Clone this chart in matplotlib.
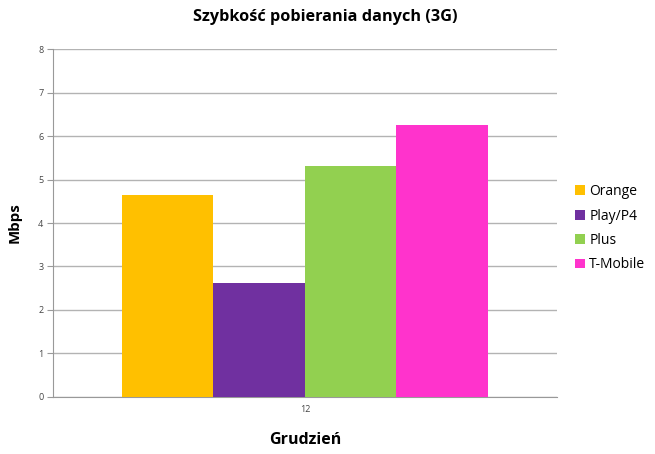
import numpy as np
import matplotlib.pyplot as plt

plt.rcParams['font.family'] = ['Open Sans', 'DejaVu Sans']

# Dane
operatorzy = ['Orange', 'Play/P4', 'Plus', 'T-Mobile']
predkosci = [4.64, 2.63, 5.31, 6.25]
kolory = ['#ffc000', '#7030a0', '#92d050', '#ff33cc']
miesiac = ['12']

fig = plt.figure(figsize=(6.55, 4.54), dpi=100)
ax = fig.add_axes([0.081, 0.1256, 0.769, 0.7664])

szer = 0.1815
x = np.arange(len(miesiac))
for i, (nazwa, v, c) in enumerate(zip(operatorzy, predkosci, kolory)):
    ax.bar(x + (i - 1.5) * szer, [v], width=szer, color=c, label=nazwa, zorder=3)

ax.set_xlim(-0.5, 0.5)
ax.set_ylim(0, 8)
ax.set_yticks(range(0, 9))
ax.set_xticks(x)
ax.set_xticklabels(miesiac)
ax.yaxis.grid(True, color='#b3b3b3', linewidth=1, zorder=0)
for s in ['top', 'right']:
    ax.spines[s].set_visible(False)
for s in ['left', 'bottom']:
    ax.spines[s].set_color('#999999')
ax.tick_params(axis='y', colors='#999999', labelcolor='#444444', labelsize=6.5, length=4, pad=3)
ax.tick_params(axis='x', length=0, labelcolor='#444444', labelsize=6.5, pad=6)

# tytul wysrodkowany na calym obrazku
fig.suptitle('Szybkość pobierania danych (3G)', x=0.497, y=0.963, va='center',
             fontsize=11.7, fontweight='bold')
ax.set_ylabel('Mbps', fontsize=10.8, fontweight='bold', labelpad=12)
ax.set_xlabel('Grudzień', fontsize=11.5, fontweight='bold', labelpad=13)

ax.legend(loc='center left', bbox_to_anchor=(1.012, 0.485), frameon=False, fontsize=10,
          handlelength=0.7, handleheight=0.7, handletextpad=0.3, labelspacing=0.68)

fig.savefig('out.png', dpi=100)
